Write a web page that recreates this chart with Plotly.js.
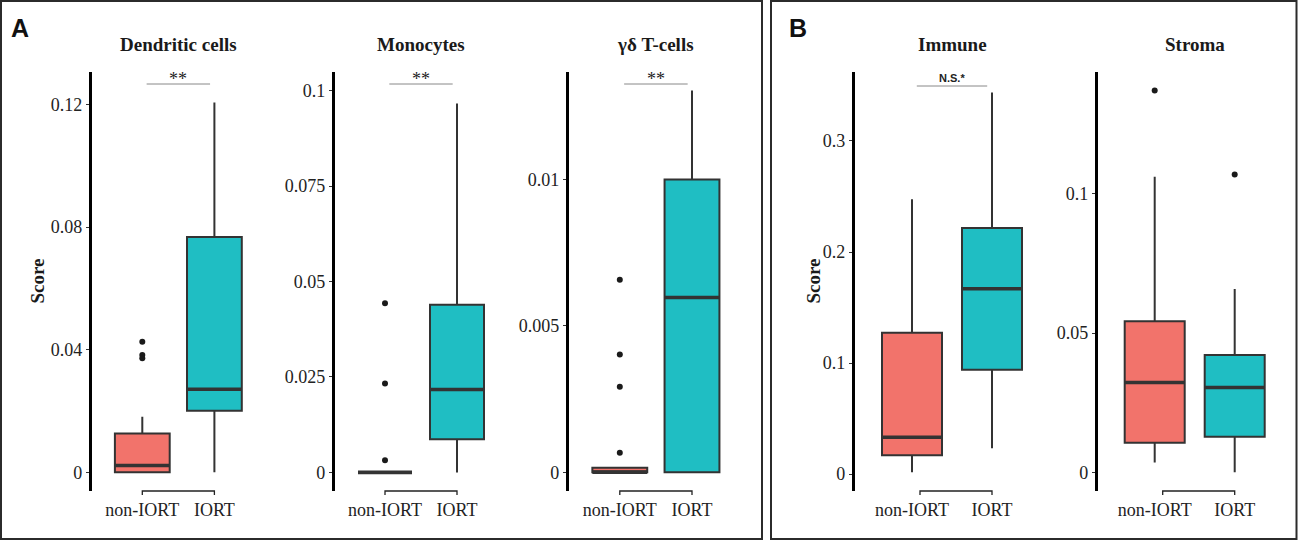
<!DOCTYPE html>
<html>
<head>
<meta charset="utf-8">
<script src="https://cdn.plot.ly/plotly-3.0.1.min.js"></script>
<style>
  html, body { margin: 0; padding: 0; background: #ffffff; }
  #chart { width: 1298px; height: 541px; }
</style>
</head>
<body>
<div id="chart"></div>
<script>
// ---------- data ----------
const groups = ["non-IORT", "IORT"];
const titles = ["Dendritic cells", "Monocytes", "γδ T-cells", "Immune", "Stroma"];
const signif = ["**", "**", "**", "N.S.*", ""];

// Dendritic cells
const dcQ1 = [0, 0.0201];
const dcMed = [0.0022, 0.0271];
const dcQ3 = [0.0127, 0.0768];
const dcLo = [0, 0];
const dcHi = [0.0181, 0.1207];
const dcOutNon = [0.0426, 0.0383, 0.0372];
const dcOutIort = [];
const dcTicks = [0, 0.04, 0.08, 0.12];

// Monocytes
const moQ1 = [0, 0.0087];
const moMed = [0, 0.0217];
const moQ3 = [0, 0.0439];
const moLo = [0, 0];
const moHi = [0, 0.0966];
const moOutNon = [0.0443, 0.0233, 0.0032];
const moOutIort = [];
const moTicks = [0, 0.025, 0.05, 0.075, 0.1];

// gamma-delta T-cells
const gdQ1 = [0, 0];
const gdMed = [0, 0.00597];
const gdQ3 = [0.00015, 0.0100];
const gdLo = [0, 0];
const gdHi = [0.00015, 0.01304];
const gdOutNon = [0.00658, 0.00402, 0.00292, 0.00067];
const gdOutIort = [];
const gdTicks = [0, 0.005, 0.01];

// Immune
const imQ1 = [0.0168, 0.0940];
const imMed = [0.0331, 0.1669];
const imQ3 = [0.1272, 0.2217];
const imLo = [0.0015, 0.0232];
const imHi = [0.2476, 0.3437];
const imOutNon = [];
const imOutIort = [];
const imTicks = [0, 0.1, 0.2, 0.3];

// Stroma
const stQ1 = [0.0106, 0.0128];
const stMed = [0.0323, 0.0305];
const stQ3 = [0.0543, 0.0422];
const stLo = [0.0035, 0];
const stHi = [0.1062, 0.0659];
const stOutNon = [0.1372];
const stOutIort = [0.107];
const stTicks = [0, 0.05, 0.1];

// ---------- layout helpers (pixels) ----------
const W = 1298, H = 541;
const px = v => v / W;
const py = v => 1 - v / H;
const fills = ["#F2736B", "#1FBEC3"];
const lineCol = "#333333";
const serif = "'Liberation Serif', 'Times New Roman', Times, serif";
const sans = "'Liberation Sans', Arial, sans-serif";

const panels = [
  {q1: dcQ1, med: dcMed, q3: dcQ3, lo: dcLo, hi: dcHi, out: [dcOutNon, dcOutIort], ticks: dcTicks,
   yr: [-0.0061, 0.1308], axisPx: 92, c0: 142.3, c1: 214.4, right: 265, bw: 0.76, score: 37, brk0: 0, sigY: 84},
  {q1: moQ1, med: moMed, q3: moQ3, lo: moLo, hi: moHi, out: [moOutNon, moOutIort], ticks: moTicks,
   yr: [-0.00487, 0.105], axisPx: 335, c0: 385, c1: 457, right: 508, bw: 0.75, score: null, brk0: 0, sigY: 84},
  {q1: gdQ1, med: gdMed, q3: gdQ3, lo: gdLo, hi: gdHi, out: [gdOutNon, gdOutIort], ticks: gdTicks,
   yr: [-0.00064, 0.01369], axisPx: 569, c0: 619.8, c1: 692, right: 742, bw: 0.76, score: null, brk0: 0, sigY: 84},
  {q1: imQ1, med: imMed, q3: imQ3, lo: imLo, hi: imHi, out: [imOutNon, imOutIort], ticks: imTicks,
   yr: [-0.0153, 0.3626], axisPx: 855, c0: 912, c1: 992, right: 1050, bw: 0.75, score: 813, brk0: 0.1, sigY: 86},
  {q1: stQ1, med: stMed, q3: stQ3, lo: stLo, hi: stHi, out: [stOutNon, stOutIort], ticks: stTicks,
   yr: [-0.0067, 0.144], axisPx: 1098, c0: 1154.7, c1: 1234.7, right: 1290, bw: 0.75, score: null, brk0: 0.1, sigY: 86}
];

const yTop = 71.5, yBot = 491;
const data = [];
const layout = {
  width: W, height: H,
  margin: {l: 0, r: 0, t: 0, b: 0},
  paper_bgcolor: "#ffffff", plot_bgcolor: "rgba(0,0,0,0)",
  showlegend: false,
  font: {family: serif},
  shapes: [], annotations: []
};

// panel borders
layout.shapes.push({type: "rect", xref: "paper", yref: "paper",
  x0: px(1), x1: px(762), y0: py(539), y1: py(1), line: {color: "#2b2b2b", width: 2}});
layout.shapes.push({type: "rect", xref: "paper", yref: "paper",
  x0: px(771), x1: px(1296.5), y0: py(539), y1: py(1), line: {color: "#2b2b2b", width: 2}});

// panel letters
layout.annotations.push({text: "<b>A</b>", xref: "paper", yref: "paper", x: px(20), y: py(28),
  xanchor: "center", yanchor: "middle", showarrow: false, font: {family: sans, size: 25, color: "#111"}});
layout.annotations.push({text: "<b>B</b>", xref: "paper", yref: "paper", x: px(797.5), y: py(28),
  xanchor: "center", yanchor: "middle", showarrow: false, font: {family: sans, size: 25, color: "#111"}});

panels.forEach((p, i) => {
  const n = i + 1;
  const xa = n === 1 ? "x" : "x" + n;
  const ya = n === 1 ? "y" : "y" + n;
  const unit = p.c1 - p.c0;
  const xr = [(p.axisPx - p.c0) / unit, (p.right - p.c0) / unit];

  layout["xaxis" + (n === 1 ? "" : n)] = {
    domain: [px(p.axisPx), px(p.right)], range: xr, anchor: ya,
    tickmode: "array", tickvals: groups.map((g, k) => k), ticktext: groups,
    showline: false, zeroline: false, showgrid: false,
    ticks: "outside", ticklen: 2, tickcolor: "rgba(0,0,0,0)",
    tickfont: {family: serif, size: 18, color: "#222"}, fixedrange: true
  };
  layout["yaxis" + (n === 1 ? "" : n)] = {
    domain: [py(yBot), py(yTop)], range: p.yr, anchor: xa,
    tickmode: "array", tickvals: p.ticks, ticktext: p.ticks.map(String),
    showline: true, linecolor: "#000", linewidth: 2.7,
    ticks: "outside", ticklen: 3.5, tickwidth: 1, tickcolor: "#333",
    showgrid: false, zeroline: false,
    tickfont: {family: serif, size: 18, color: "#222"}, fixedrange: true
  };

  groups.forEach((g, k) => {
    data.push({
      type: "box", xaxis: xa, yaxis: ya, x: [k],
      q1: [p.q1[k]], median: [p.med[k]], q3: [p.q3[k]],
      lowerfence: [p.lo[k]], upperfence: [p.hi[k]],
      boxpoints: false, width: p.bw, whiskerwidth: 0,
      fillcolor: fills[k], line: {color: lineCol, width: 2},
      hoverinfo: "skip", name: g
    });
    // thick median
    layout.shapes.push({type: "line", xref: xa, yref: ya,
      x0: k - p.bw / 2, x1: k + p.bw / 2, y0: p.med[k], y1: p.med[k],
      line: {color: lineCol, width: 3.6}});
    if (p.out[k].length) {
      data.push({
        type: "scatter", mode: "markers", xaxis: xa, yaxis: ya,
        x: p.out[k].map(() => k), y: p.out[k],
        marker: {color: "#1a1a1a", size: 6}, hoverinfo: "skip", name: g + " outliers"
      });
    }
  });

  // capped x axis line (bracket)
  const yb = py(yBot), tk = 4 / H;
  layout.shapes.push({type: "path", xref: xa, yref: "paper",
    path: `M ${p.brk0},${yb - tk} L ${p.brk0},${yb} L 1,${yb} L 1,${yb - tk}`,
    line: {color: "#222", width: 1.3}});

  // title
  layout.annotations.push({text: "<b>" + titles[i] + "</b>", xref: "paper", yref: "paper",
    x: px((p.c0 + p.c1) / 2), y: py(44.5), xanchor: "center", yanchor: "middle", showarrow: false,
    font: {family: serif, size: 19, color: "#1a1a1a"}});

  // significance
  if (signif[i]) {
    layout.shapes.push({type: "line", xref: xa, yref: "paper",
      x0: 0.06, x1: 0.94, y0: py(p.sigY), y1: py(p.sigY),
      line: {color: "#888", width: 1}});
    const isSans = signif[i] !== "**";
    layout.annotations.push({text: isSans ? "<b>" + signif[i] + "</b>" : signif[i],
      xref: "paper", yref: "paper", x: px((p.c0 + p.c1) / 2), y: py(isSans ? 78 : 79),
      xanchor: "center", yanchor: "middle", showarrow: false,
      font: {family: isSans ? sans : serif, size: isSans ? 11 : 18, color: "#222"}});
  }

  // y title
  if (p.score !== null) {
    layout.annotations.push({text: "<b>Score</b>", xref: "paper", yref: "paper",
      x: px(p.score), y: py(281.5), xanchor: "center", yanchor: "middle", textangle: -90,
      showarrow: false, font: {family: serif, size: 19, color: "#1a1a1a"}});
  }
});

Plotly.newPlot("chart", data, layout, {staticPlot: true, displayModeBar: false});
</script>
</body>
</html>
